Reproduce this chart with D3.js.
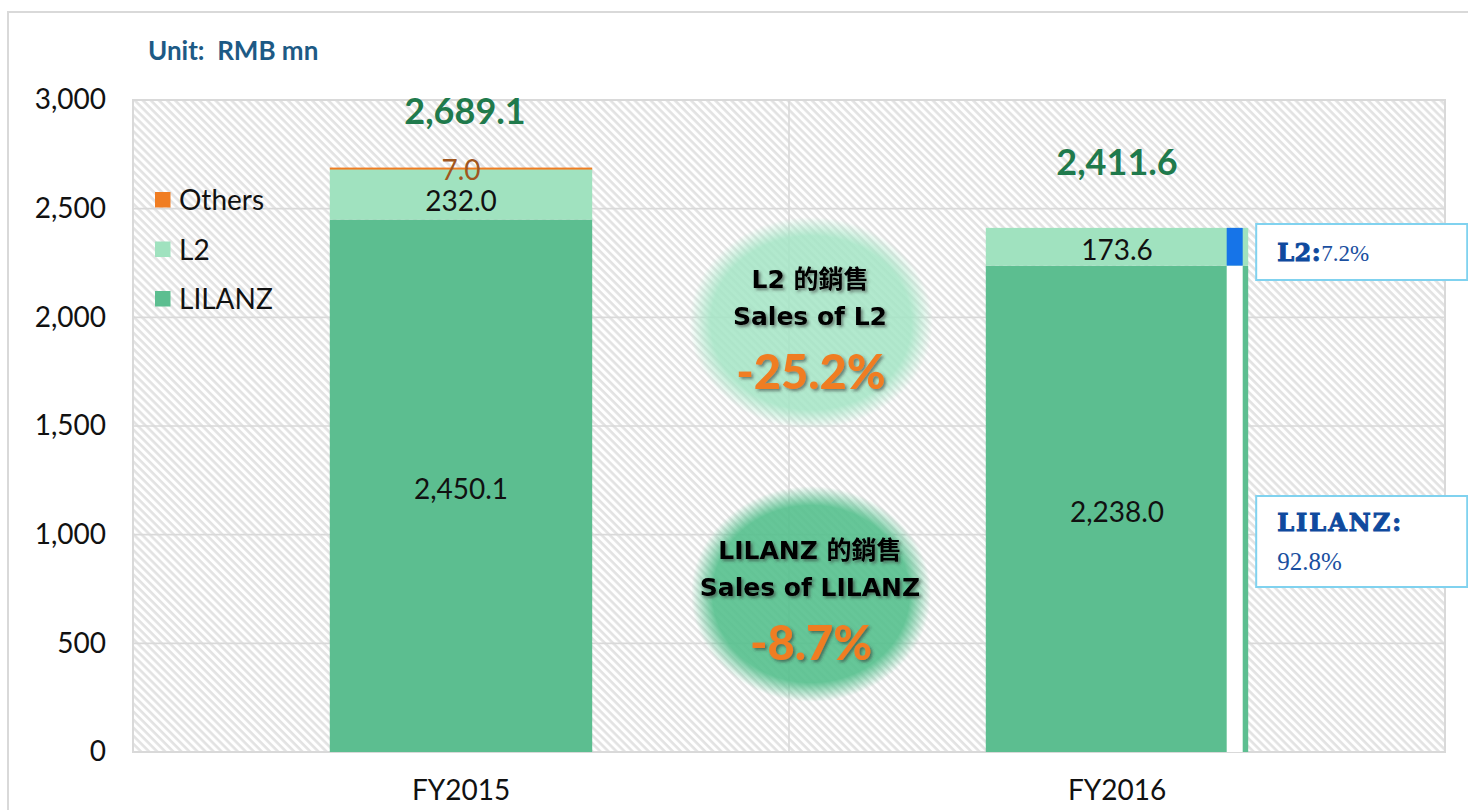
<!DOCTYPE html>
<html>
<head>
<meta charset="utf-8">
<script src="https://cdn.jsdelivr.net/npm/d3@7"></script>
<style>
  html, body { margin: 0; padding: 0; background: #fff; }
  svg { display: block; }
</style>
</head>
<body>
<svg id="chart" width="1468" height="810"></svg>
<script>
// ---------------- DATA ----------------
const categories = ["FY2015", "FY2016"];
const seriesKeys = ["LILANZ", "L2", "Others"];
const legendOrder = ["Others", "L2", "LILANZ"];
const lilanzValues = [2450.1, 2238.0];
const l2Values = [232.0, 173.6];
const othersValues = [7.0, 0];
const totalValues = [2689.1, 2411.6];
const yTickValues = [0, 500, 1000, 1500, 2000, 2500, 3000];
const shareLabels = ["L2", "LILANZ"];
const shareValues = [7.2, 92.8];           // FY2016 share of sales, %
const growthLabels = ["L2", "LILANZ"];
const growthValues = [-25.2, -8.7];         // % change FY2016 vs FY2015
const unitLabel = "Unit:  RMB mn";

// ---------------- STYLE ----------------
const colors = { LILANZ: "#5cbe90", L2: "#a0e2bf", Others: "#f07d22" };
const labelColors = { LILANZ: "#111", L2: "#111", Others: "#a0561e" };
const gridColor = "#d9d9d9";
const totalColor = "#1f7a4c";
const boxBlue = "#0f4a9e";

const svg = d3.select("#chart");
const W = 1468, H = 810;
const plot = { left: 133, right: 1445, top: 100, bottom: 752 };

// table for stacking
const table = categories.map((c, i) => ({
  cat: c, LILANZ: lilanzValues[i], L2: l2Values[i], Others: othersValues[i], total: totalValues[i]
}));

const x = d3.scaleBand().domain(categories).range([plot.left, plot.right])
  .paddingInner(0.6).paddingOuter(0.3);
const y = d3.scaleLinear().domain([0, 3000]).range([plot.bottom, plot.top]);

// defs
const defs = svg.append("defs");
const pat = defs.append("pattern").attr("id", "hatch")
  .attr("patternUnits", "userSpaceOnUse").attr("width", 5.7).attr("height", 5.7)
  .attr("patternTransform", "rotate(-45)");
pat.append("rect").attr("width", 5.7).attr("height", 5.7).attr("fill", "#ffffff");
pat.append("line").attr("x1", 1.5).attr("y1", 0).attr("x2", 1.5).attr("y2", 5.7)
  .attr("stroke", "#e2e2e2").attr("stroke-width", 2.6);

function bubbleGrad(id, color, op) {
  const g = defs.append("radialGradient").attr("id", id);
  g.append("stop").attr("offset", "0%").attr("stop-color", color).attr("stop-opacity", op);
  g.append("stop").attr("offset", "82%").attr("stop-color", color).attr("stop-opacity", op);
  g.append("stop").attr("offset", "100%").attr("stop-color", color).attr("stop-opacity", 0);
}
bubbleGrad("gradL2", "#a4e5c5", 0.85);
bubbleGrad("gradLILANZ", "#55c08d", 0.9);

const shadow = defs.append("filter").attr("id", "shadow")
  .attr("x", "-10%").attr("y", "-20%").attr("width", "130%").attr("height", "150%");
shadow.append("feDropShadow").attr("dx", 2).attr("dy", 2).attr("stdDeviation", 1.4)
  .attr("flood-color", "#333").attr("flood-opacity", 0.55);

// outer frame
svg.append("rect").attr("x", 8).attr("y", 12).attr("width", W + 20).attr("height", H + 20)
  .attr("fill", "#fff").attr("stroke", gridColor).attr("stroke-width", 2);

// unit label
svg.append("text").attr("x", 148).attr("y", 60).text(unitLabel)
  .style("white-space", "pre").attr("xml:space", "preserve")
  .attr("font-family", "Lato, sans-serif").attr("font-weight", 700).attr("font-size", 26)
  .attr("fill", "#1d5a85");

// plot background
svg.append("rect").attr("x", plot.left).attr("y", plot.top)
  .attr("width", plot.right - plot.left).attr("height", plot.bottom - plot.top)
  .attr("fill", "url(#hatch)");

// horizontal gridlines
svg.append("g").selectAll("line").data(yTickValues).join("line")
  .attr("x1", plot.left).attr("x2", plot.right)
  .attr("y1", d => y(d)).attr("y2", d => y(d))
  .attr("stroke", gridColor).attr("stroke-width", 1.6);

// vertical divider between categories
const divX = (x(categories[0]) + x.bandwidth() + x(categories[1])) / 2;
svg.append("line").attr("x1", divX).attr("x2", divX).attr("y1", plot.top).attr("y2", plot.bottom)
  .attr("stroke", gridColor).attr("stroke-width", 1.6);

// plot border
svg.append("rect").attr("x", plot.left).attr("y", plot.top)
  .attr("width", plot.right - plot.left).attr("height", plot.bottom - plot.top)
  .attr("fill", "none").attr("stroke", gridColor).attr("stroke-width", 2);

// axes
const yAxis = svg.append("g").attr("transform", `translate(${plot.left},0)`)
  .call(d3.axisLeft(y).tickValues(yTickValues).tickFormat(d3.format(",")).tickSize(0).tickPadding(27));
yAxis.select(".domain").remove();
yAxis.selectAll("text").attr("font-family", "Lato, sans-serif").attr("font-size", 28).attr("fill", "#111");

const xAxis = svg.append("g").attr("transform", `translate(0,${plot.bottom})`)
  .call(d3.axisBottom(x).tickSize(0).tickPadding(28));
xAxis.select(".domain").remove();
xAxis.selectAll("text").attr("font-family", "Lato, sans-serif").attr("font-size", 28).attr("fill", "#111");

// stacked bars
const stack = d3.stack().keys(seriesKeys)(table);
const barG = svg.append("g");
stack.forEach(layer => {
  barG.selectAll(null).data(layer).join("rect")
    .attr("x", d => x(d.data.cat)).attr("width", x.bandwidth())
    .attr("y", d => y(d[1])).attr("height", d => Math.max(y(d[0]) - y(d[1]), d[1] > d[0] ? 2 : 0))
    .attr("fill", colors[layer.key]);
});

// data labels
const fmt = d3.format(",.1f");
const labelG = svg.append("g").attr("font-family", "Lato, sans-serif").attr("font-size", 28)
  .attr("text-anchor", "middle");
stack.forEach(layer => {
  labelG.selectAll(null).data(layer.filter(d => d[1] - d[0] > 0)).join("text")
    .attr("x", d => x(d.data.cat) + x.bandwidth() / 2)
    .attr("y", d => {
      const mid = y((d[0] + d[1]) / 2);
      return layer.key === "Others" ? mid + 12 : layer.key === "L2" && d.data.Others > 0 ? mid + 17 : mid + 13;
    })
    .attr("fill", labelColors[layer.key])
    .text(d => fmt(d[1] - d[0]));
});

// totals
svg.append("g").selectAll("text").data(table).join("text")
  .attr("x", d => x(d.cat) + x.bandwidth() / 2 + (d.cat === "FY2015" ? 4 : 0))
  .attr("y", d => y(d.total) - (d.cat === "FY2015" ? 44 : 53))
  .attr("text-anchor", "middle").attr("font-family", "Lato, sans-serif")
  .attr("font-weight", 700).attr("font-size", 36).attr("fill", totalColor)
  .text(d => fmt(d.total));

// legend
const legend = svg.append("g");
legendOrder.forEach((k, i) => {
  const cy = 200 + i * 49.5;
  legend.append("rect").attr("x", 155).attr("y", cy - 8).attr("width", 15.5).attr("height", 15.5)
    .attr("fill", colors[k]);
  legend.append("text").attr("x", 179).attr("y", cy + 10).text(k)
    .attr("font-family", "Lato, sans-serif").attr("font-size", 28).attr("fill", "#111");
});

// FY2016 share bar (thin 100% bar inside the FY2016 column)
const lastCat = categories[1];
const lastTotal = totalValues[1];
const shareX = x(lastCat) + x.bandwidth() - 21.5;
const yShare = d3.scaleLinear().domain([0, 100]).range([y(0), y(lastTotal)]);
const shareStack = [
  { key: "LILANZ", y0: 0, y1: shareValues[1], fill: "#ffffff" },
  { key: "L2", y0: shareValues[1], y1: shareValues[1] + shareValues[0], fill: "#1674e8" }
];
svg.append("g").selectAll("rect").data(shareStack).join("rect")
  .attr("x", shareX).attr("width", 16)
  .attr("y", d => yShare(d.y1)).attr("height", d => yShare(d.y0) - yShare(d.y1))
  .attr("fill", d => d.fill);

// share boxes
const boxX = x(lastCat) + x.bandwidth() + 8;
const boxes = [
  { label: shareLabels[0], value: shareValues[0], top: 224, h: 56, twoLine: false },
  { label: shareLabels[1], value: shareValues[1], top: 496, h: 91, twoLine: true }
];
const boxG = svg.append("g");
boxes.forEach(b => {
  boxG.append("rect").attr("x", boxX).attr("y", b.top).attr("width", 211).attr("height", b.h)
    .attr("fill", "#fff").attr("stroke", "#80d2ef").attr("stroke-width", 2);
  const t = boxG.append("text").attr("x", boxX + 21).attr("y", b.top + (b.twoLine ? 35 : 37))
    .attr("fill", boxBlue);
  t.append("tspan").text(b.label + ":")
    .attr("font-family", "'DejaVu Serif', 'Liberation Serif', serif").attr("font-weight", 900)
    .attr("stroke", boxBlue).attr("stroke-width", 1)
    .attr("font-size", 24).attr("letter-spacing", b.twoLine ? 2 : 0.5);
  const valText = b.value.toFixed(1) + "%";
  if (b.twoLine) {
    boxG.append("text").attr("x", boxX + 21).attr("y", b.top + 74).text(valText)
      .attr("font-family", "'Liberation Serif', serif").attr("font-size", 25).attr("fill", "#1a4f9f");
  } else {
    t.append("tspan").text(valText)
      .attr("font-family", "'Liberation Serif', serif").attr("font-size", 23).attr("fill", "#1a4f9f");
  }
});

// growth bubbles
const bubbles = [
  { name: growthLabels[0], value: growthValues[0], cy: y(1975), rx: 122, ry: 106, grad: "gradL2" },
  { name: growthLabels[1], value: growthValues[1], cy: y(727), rx: 120, ry: 108, grad: "gradLILANZ" }
];
const bx = divX + 22;
const bubG = svg.append("g");
bubbles.forEach(b => {
  bubG.append("ellipse").attr("cx", bx).attr("cy", b.cy).attr("rx", b.rx).attr("ry", b.ry)
    .attr("fill", `url(#${b.grad})`);
  const tg = bubG.append("g").attr("text-anchor", "middle").attr("filter", "url(#shadow)");
  tg.append("text").attr("x", bx - 1).attr("y", b.cy - 35).text(b.name + " 的銷售")
    .attr("font-family", "'DejaVu Sans', 'Noto Sans CJK TC', sans-serif").attr("font-weight", 700)
    .attr("font-size", 25).attr("fill", "#000");
  tg.append("text").attr("x", bx - 1).attr("y", b.cy + 2).text("Sales of " + b.name)
    .attr("font-family", "'DejaVu Sans', sans-serif").attr("font-weight", 700)
    .attr("font-size", 25).attr("fill", "#000");
  tg.append("text").attr("x", bx).attr("y", b.cy + 66).text(b.value.toFixed(1) + "%")
    .attr("font-family", "Lato, sans-serif").attr("font-weight", 900)
    .attr("font-size", 47).attr("fill", "#f07d22");
});
</script>
</body>
</html>
